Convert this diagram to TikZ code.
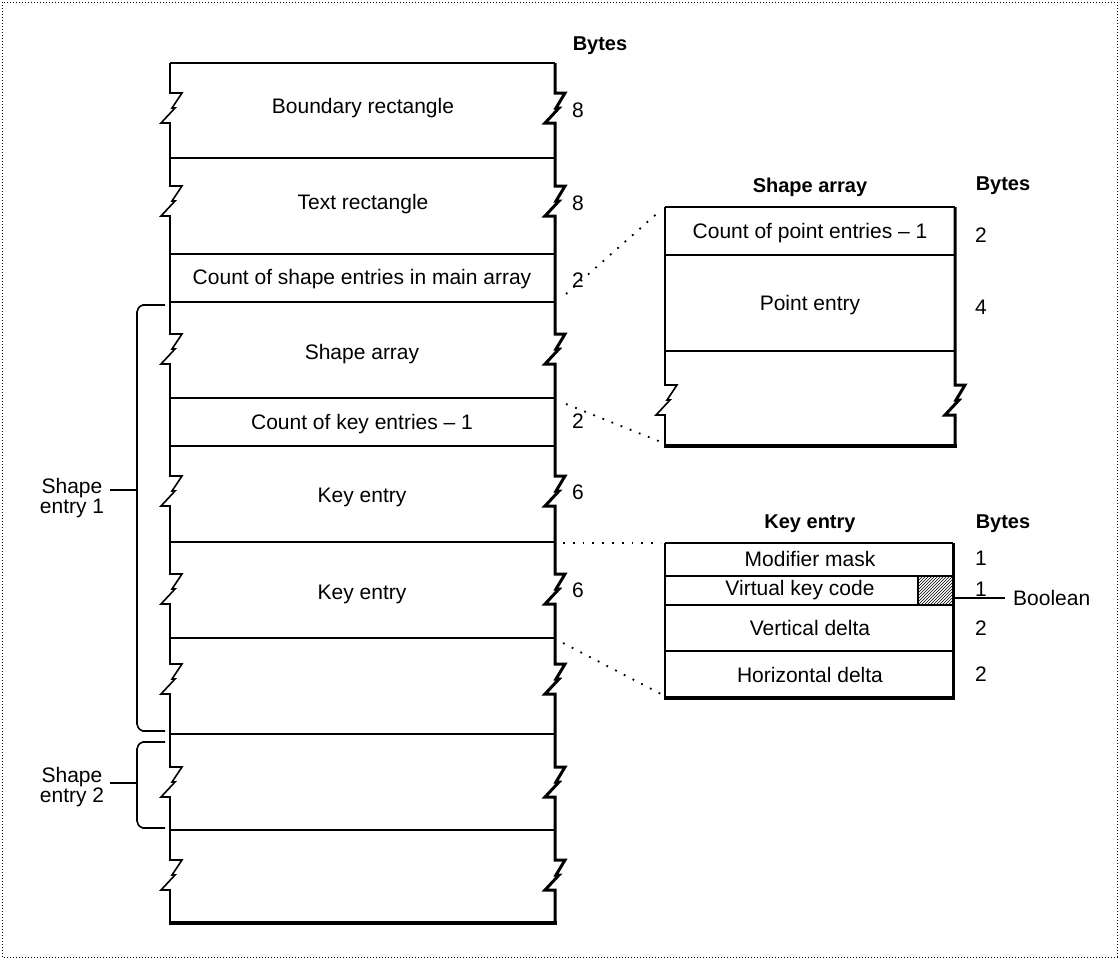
\documentclass[tikz,border=0pt]{standalone}
\usepackage{fontspec}
\setmainfont{Liberation Sans}
\usetikzlibrary{patterns}
\begin{document}
\begin{tikzpicture}[x=1pt,y=-1pt,
  txt/.style={font=\fontsize{21}{18}\selectfont, inner sep=0pt},
  hdr/.style={font=\fontsize{20}{18}\selectfont\bfseries, inner sep=0pt},
  thinln/.style={line width=1.6pt},
  edgeR/.style={line width=3pt},
  baseln/.style={line width=4.5pt},
  dotconn/.style={line width=1.8pt, dash pattern=on 1.8pt off 8pt},
  framedot/.style={line width=1pt, dash pattern=on 1pt off 2pt},
  bracestyle/.style={line width=1.6pt, rounded corners=2pt}]
\useasboundingbox (0,0) rectangle (1119,959);
\draw[framedot] (2,2) rectangle (1117,957);

% ---------- main column ----------
\draw[thinln] (170,63) foreach \c in {109,202,350,492,590,680,783,876}
  { -- (170,\c-16) -- (182,\c-16) -- (172,\c-1) -- (175,\c-1) -- (161,\c+14) -- (170,\c+14) } -- (170,923);
\draw[edgeR] (555,63) foreach \c in {109,202,350,492,590,680,783,876}
  { -- (555,\c-16) -- (565,\c-16) -- (556,\c-1) -- (559,\c-1) -- (545,\c+14) -- (555,\c+14) } -- (555,923);
\draw[thinln] (170,63) -- (555,63);
\foreach \y in {158,254,302,398,446,542,638,734,830}
  \draw[thinln] (170,\y) -- (555,\y);
\draw[baseln] (169,923) -- (557,923);

\node[hdr] (bytesA) at (600,46) {Bytes};
\node[txt] (rBound) at (363,108) {Boundary rectangle};
\node[txt] (rText)  at (363,204) {Text rectangle};
\node[txt] (rCount) at (362,279) {Count of shape entries in main array};
\node[txt] (rShape) at (362,354) {Shape array};
\node[txt] (rKeyC)  at (362,424) {Count of key entries – 1};
\node[txt] (rKey1)  at (362,497) {Key entry};
\node[txt] (rKey2)  at (362,594) {Key entry};

\node[txt] (bB) at (578,110) {8};
\node[txt] (bT) at (578,203) {8};
\node[txt] (bC) at (578,280) {2};
\node[txt] (bK) at (578,421) {2};
\node[txt] (bK1) at (578,492) {6};
\node[txt] (bK2) at (578,590) {6};

% ---------- braces ----------
\draw[bracestyle] (165,305) -- (141,305) -- (137,310) -- (137,726) -- (141,731) -- (165,731);
\coordinate (b1m) at (137,490);
\node[txt, align=center] (se1) at (72,498) {Shape\\entry 1};
\draw[thinln] (b1m) -- (110,490);

\draw[bracestyle] (165,742) -- (141,742) -- (137,747) -- (137,823) -- (141,828) -- (165,828);
\coordinate (b2m) at (137,783);
\node[txt, align=center] (se2) at (72,787) {Shape\\entry 2};
\draw[thinln] (b2m) -- (110,783);

% ---------- shape array box ----------
\node[hdr] (saTitle) at (810,187) {Shape array};
\node[hdr] (bytesB) at (1003,186) {Bytes};
\draw[thinln] (665,207) -- (665,385) -- (677,385) -- (667,400) -- (670,400) -- (656,415) -- (665,415) -- (665,446);
\draw[edgeR] (955,207) -- (955,385) -- (965,385) -- (956,400) -- (959,400) -- (945,415) -- (955,415) -- (955,446);
\draw[thinln] (665,207) -- (955,207);
\draw[thinln] (665,255) -- (955,255);
\draw[thinln] (665,351) -- (955,351);
\draw[baseln] (664,446) -- (957,446);
\node[txt] (saCount) at (810,233) {Count of point entries – 1};
\node[txt] (saPoint) at (810,305) {Point entry};
\node[txt] (saB1) at (981,235) {2};
\node[txt] (saB2) at (981,307) {4};

% ---------- key entry box ----------
\node[hdr] (keTitle) at (810,524) {Key entry};
\node[hdr] (bytesC) at (1003,524) {Bytes};
\fill[pattern=north east lines] (918,577) rectangle (952,604);
\draw[thinln] (918,576) -- (918,605);
\draw[thinln] (665,543) -- (665,698);
\draw[edgeR] (953,543) -- (953,698);
\foreach \y in {543,576,605,651}
  \draw[thinln] (665,\y) -- (953,\y);
\draw[baseln] (664,698) -- (955,698);
\node[txt] (keMod)  at (810,559) {Modifier mask};
\node[txt] (keVirt) at (800,590) {Virtual key code};
\node[txt] (keVert) at (810,628) {Vertical delta};
\node[txt] (keHor)  at (810,675) {Horizontal delta};
\node[txt] (keB1) at (981,558) {1};
\node[txt] (keB2) at (981,589) {1};
\node[txt] (keB3) at (981,628) {2};
\node[txt] (keB4) at (981,674) {2};
\node[txt, anchor=west] (bool) at (1013,598) {Boolean};
\coordinate (hatchR) at (953,598);
\draw[thinln] (hatchR) -- (bool.west) [shorten >=8pt];

% ---------- dotted connectors ----------
\coordinate (m1) at (566,294);
\coordinate (s1) at (661,210);
\coordinate (m2) at (566,404);
\coordinate (s2) at (661,442);
\coordinate (m3) at (563,543);
\coordinate (k1) at (661,543);
\coordinate (m4) at (563,643);
\coordinate (k2) at (661,694);
\draw[dotconn] (m1) -- (s1);
\draw[dotconn] (m2) -- (s2);
\draw[dotconn] (m3) -- (k1);
\draw[dotconn] (m4) -- (k2);
\end{tikzpicture}
\end{document}
